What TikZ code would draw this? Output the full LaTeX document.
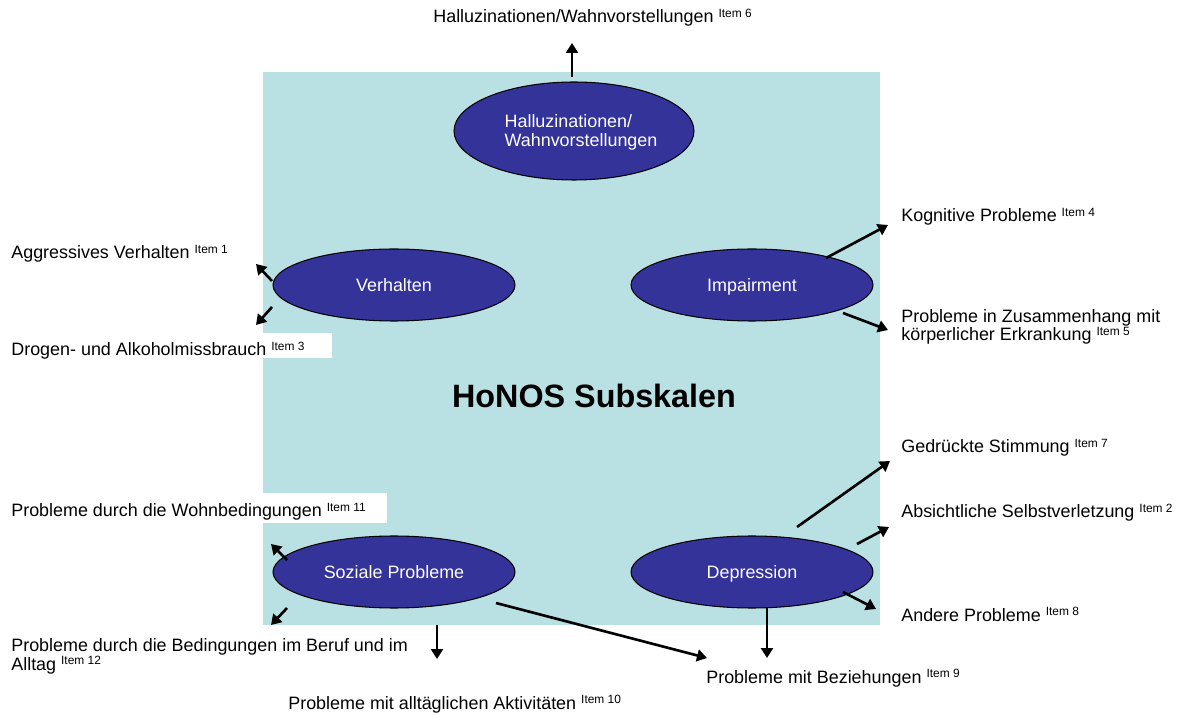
\documentclass[tikz,border=0pt]{standalone}
\usepackage{fontspec}
\setmainfont{Liberation Sans}
\usetikzlibrary{arrows.meta,calc,shapes.geometric}
\definecolor{honteal}{RGB}{185,224,227}
\definecolor{honblue}{RGB}{51,51,153}
\newcommand{\itm}[1]{\raisebox{3.4pt}{\fontsize{6.8}{7}\selectfont Item #1}}
\tikzset{
  subsk/.style={ellipse, draw=black, line width=0.6pt, fill=honblue, text=white,
                inner sep=0pt, text height=8.2pt, text depth=1pt,
                font=\fontsize{10.2}{10.8}\selectfont},
  itemtxt/.style={anchor=base west, inner sep=0pt, align=left,
                  font=\fontsize{10.2}{10.8}\selectfont},
  itemarr/.style={-{Triangle[length=2mm,width=2.4mm]}, line width=1.5pt},
}

\begin{document}
\begin{tikzpicture}[x=0.02cm, y=-0.02cm]
  \fill[white] (0,0) rectangle (1179,715);
  \useasboundingbox (0,0) rectangle (1179,715);
  % --- background panel
  \fill[honteal] (263,72) rectangle (880,625);
  \fill[white] (0,333) rectangle (332,358);
  \fill[white] (0,493) rectangle (387,523);
  \node[font=\bfseries\fontsize{18.4}{20}\selectfont, anchor=base] (title) at (594,408) {HoNOS Subskalen};
  % --- subscales
  \node[ellipse, draw=black, line width=0.6pt, fill=honblue, minimum width=4.8cm, minimum height=1.96cm] (hal) at (574,131) {};
  \node[text=white, align=left, inner sep=0pt, font=\fontsize{10.2}{10.8}\selectfont] (halt) at (581,132)
       {Halluzinationen/\\Wahnvorstellungen};
  \node[subsk, minimum width=4.84cm, minimum height=1.44cm] (verh) at (394,285) {Verhalten};
  \node[subsk, minimum width=4.84cm, minimum height=1.44cm] (imp)  at (752,285) {Impairment};
  \node[subsk, minimum width=4.84cm, minimum height=1.44cm] (soz)  at (394,572) {Soziale Probleme};
  \node[subsk, minimum width=4.84cm, minimum height=1.44cm] (dep)  at (752,572) {Depression};
  % --- items
  \node[itemtxt] (i6)  at (433,23)  {Halluzinationen/Wahnvorstellungen \itm{6}};
  \node[itemtxt] (i1)  at (11,259)  {Aggressives Verhalten \itm{1}};
  \node[itemtxt] (i3)  at (11,356)  {Drogen- und Alkoholmissbrauch \itm{3}};
  \node[itemtxt] (i4)  at (901,222) {Kognitive Probleme \itm{4}};
  \node[itemtxt] (i5)  at (901,341) {Probleme in Zusammenhang mit\\k\"orperlicher Erkrankung \itm{5}};
  \node[itemtxt] (i7)  at (901,453) {Gedr\"uckte Stimmung \itm{7}};
  \node[itemtxt] (i2)  at (901,518) {Absichtliche Selbstverletzung \itm{2}};
  \node[itemtxt] (i8)  at (901,621) {Andere Probleme \itm{8}};
  \node[itemtxt] (i9)  at (706,683) {Probleme mit Beziehungen \itm{9}};
  \node[itemtxt] (i10) at (288,709) {Probleme mit allt\"aglichen Aktivit\"aten \itm{10}};
  \node[itemtxt] (i11) at (11,517)  {Probleme durch die Wohnbedingungen \itm{11}};
  \node[itemtxt] (i12) at (11,670)  {Probleme durch die Bedingungen im Beruf und im\\Alltag \itm{12}};
  % --- arrow tips
  \coordinate (t6)  at (572,43);
  \coordinate (t1)  at (256,264);
  \coordinate (t3)  at (256,325);
  \coordinate (t4)  at (888,225);
  \coordinate (t5)  at (888,330);
  \coordinate (t7)  at (890,461);
  \coordinate (t2)  at (889,527);
  \coordinate (t8)  at (876,609);
  \coordinate (t9a) at (767,658);
  \coordinate (t9b) at (707,658);
  \coordinate (t10) at (437,659);
  \coordinate (t11) at (271,544);
  \coordinate (t12) at (271,625);
  % --- arrows
  \draw[itemarr] ($(hal)+(-2,-54)$)   -- (t6);
  \draw[itemarr] ($(verh)+(-122,-4)$) -- (t1);
  \draw[itemarr] ($(verh)+(-122,22)$) -- (t3);
  \draw[itemarr] ($(imp)+(74,-27)$)   -- (t4);
  \draw[itemarr] ($(imp)+(91,28)$)    -- (t5);
  \draw[itemarr] ($(dep)+(45,-45)$)   -- (t7);
  \draw[itemarr] ($(dep)+(105,-28)$)  -- (t2);
  \draw[itemarr] ($(dep)+(91,20)$)    -- (t8);
  \draw[itemarr] ($(dep)+(15,36)$)    -- (t9a);
  \draw[itemarr] ($(soz)+(102,31)$)   -- (t9b);
  \draw[itemarr] ($(soz)+(43,53)$)    -- (t10);
  \draw[itemarr] ($(soz)+(-107,-12)$) -- (t11);
  \draw[itemarr] ($(soz)+(-107,36)$)  -- (t12);
\end{tikzpicture}
\end{document}
